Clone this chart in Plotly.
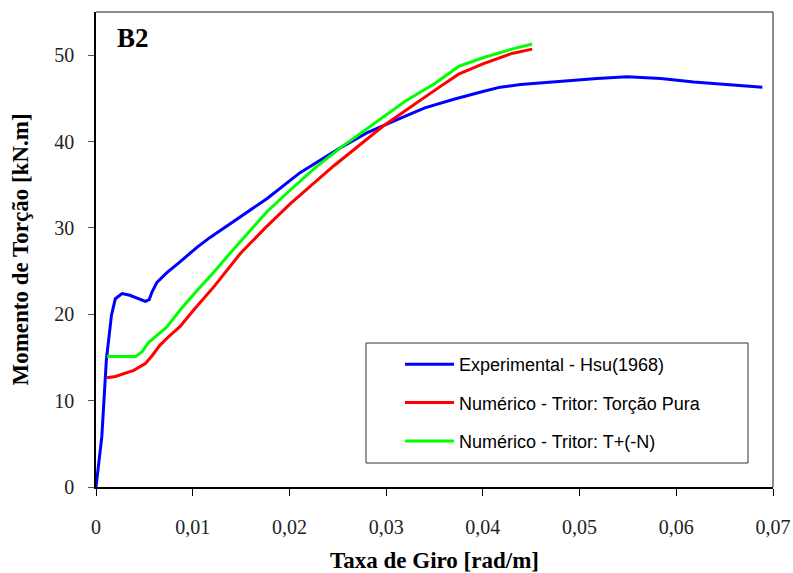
import plotly.graph_objects as go

# Experimental - Hsu(1968)
exp_x = [0, 0.0006, 0.00107, 0.0016, 0.002, 0.0027, 0.0035, 0.0045, 0.0051, 0.0055, 0.0058,
         0.0063, 0.0073, 0.0085, 0.0094, 0.0105, 0.0118, 0.0142, 0.0177, 0.0211, 0.0225,
         0.0253, 0.028, 0.030, 0.0315, 0.034, 0.037, 0.040, 0.0418, 0.0439, 0.046, 0.048, 0.0518, 0.0549,
         0.0584, 0.0618, 0.0653, 0.0689]
exp_y = [0, 5.8, 14.7, 19.9, 21.8, 22.4, 22.2, 21.8, 21.5, 21.7, 22.6,
         23.7, 24.8, 25.9, 26.8, 27.8, 28.9, 30.7, 33.4, 36.4, 37.4,
         39.3, 41.0, 42.0, 42.7, 43.9, 44.9, 45.8, 46.3, 46.6, 46.8, 47.0, 47.3, 47.5,
         47.3, 46.9, 46.6, 46.3]

# Numérico - Tritor: Torção Pura
pura_x = [0.00114, 0.002, 0.0039, 0.0051, 0.0058, 0.0066, 0.0075, 0.0087, 0.0101, 0.0122,
          0.0149, 0.0175, 0.0201, 0.0246, 0.0297, 0.033, 0.0355, 0.0375, 0.040, 0.043, 0.0451]
pura_y = [12.65, 12.8, 13.5, 14.3, 15.2, 16.4, 17.4, 18.6, 20.5, 23.2,
          27.0, 30.0, 32.8, 37.2, 41.8, 44.4, 46.3, 47.8, 49.0, 50.2, 50.7]

# Numérico - Tritor: T+(-N)
tn_x = [0.00114, 0.0041, 0.0048, 0.0054, 0.0073, 0.0087, 0.0104, 0.0122, 0.0142, 0.016, 0.0177,
        0.020, 0.0225, 0.0253, 0.0291, 0.032, 0.035, 0.0375, 0.040, 0.043, 0.0451]
tn_y = [15.1, 15.1, 15.7, 16.7, 18.5, 20.5, 22.7, 24.9, 27.5, 29.8, 31.9,
        34.3, 36.8, 39.3, 42.4, 44.7, 46.7, 48.7, 49.7, 50.7, 51.3]

x_ticks = [0, 0.01, 0.02, 0.03, 0.04, 0.05, 0.06, 0.07]
x_labels = ["0", "0,01", "0,02", "0,03", "0,04", "0,05", "0,06", "0,07"]
y_ticks = [0, 10, 20, 30, 40, 50]

names = ["Experimental - Hsu(1968)", "Numérico - Tritor: Torção Pura", "Numérico - Tritor: T+(-N)"]
colors = ["#0000FF", "#FF0000", "#00FF00"]

fig = go.Figure()
for i, (xs, ys) in enumerate([(exp_x, exp_y), (pura_x, pura_y), (tn_x, tn_y)]):
    fig.add_trace(go.Scatter(x=xs, y=ys, mode="lines", name=names[i],
                             line=dict(color=colors[i], width=3),
                             legendgroup=f"g{i}"))

serif = "Liberation Serif, Times New Roman, serif"
PL, PR, PT, PB = 96, 773, 12, 487
PW, PH = PR - PL, PB - PT
fig.update_layout(
    width=793, height=573,
    margin=dict(l=PL, r=793 - PR, t=PT, b=573 - PB, autoexpand=False),
    paper_bgcolor="white", plot_bgcolor="white",
    showlegend=True,
    legend=dict(x=(400 - PL) / PW, y=(PB - 346) / PH, xanchor="left", yanchor="top",
                font=dict(family="Liberation Sans, Arial, sans-serif", size=18, color="black"),
                bgcolor="rgba(0,0,0,0)", borderwidth=0, tracegroupgap=12,
                itemwidth=49),
    xaxis=dict(range=[0, 0.07], tickvals=x_ticks, ticktext=x_labels, automargin=False,
               showgrid=False, zeroline=False, showline=True, linecolor="black", linewidth=1.5,
               ticks="outside", ticklen=7, tickcolor="black", tickwidth=1,
               tickfont=dict(family=serif, size=20, color="#222"),
               ticklabelstandoff=14,
               title=dict(text="<b>Taxa de Giro [rad/m]</b>", font=dict(family=serif, size=23, color="black"),
                          standoff=18)),
    yaxis=dict(range=[0, 55], tickvals=y_ticks, automargin=False,
               showgrid=False, zeroline=False, showline=True, linecolor="black", linewidth=1.5,
               ticks="outside", ticklen=6, tickcolor="#555", tickwidth=1,
               tickfont=dict(family=serif, size=20, color="#222"),
               ticklabelstandoff=10,
               title=dict(text="<b>Momento de Torção [kN.m]</b>", font=dict(family=serif, size=23, color="black"),
                          standoff=19)),
    shapes=[
        dict(type="line", xref="paper", yref="paper", x0=0, x1=1, y0=1, y1=1,
             line=dict(color="#666", width=1.5)),
        dict(type="line", xref="paper", yref="paper", x0=1, x1=1, y0=0, y1=1,
             line=dict(color="#666", width=1.5)),
        dict(type="rect", xref="paper", yref="paper",
             x0=(366 - PL) / PW, x1=(748 - PL) / PW,
             y0=(PB - 463) / PH, y1=(PB - 343) / PH,
             line=dict(color="#333", width=1), fillcolor="rgba(0,0,0,0)"),
    ],
    annotations=[
        dict(text="<b>B2</b>", xref="paper", yref="paper",
             x=(115 - PL) / PW, y=(PB - 38) / PH, xanchor="left", yanchor="middle",
             showarrow=False, font=dict(family=serif, size=27, color="black")),
    ],
)

fig.write_html("out.html")
